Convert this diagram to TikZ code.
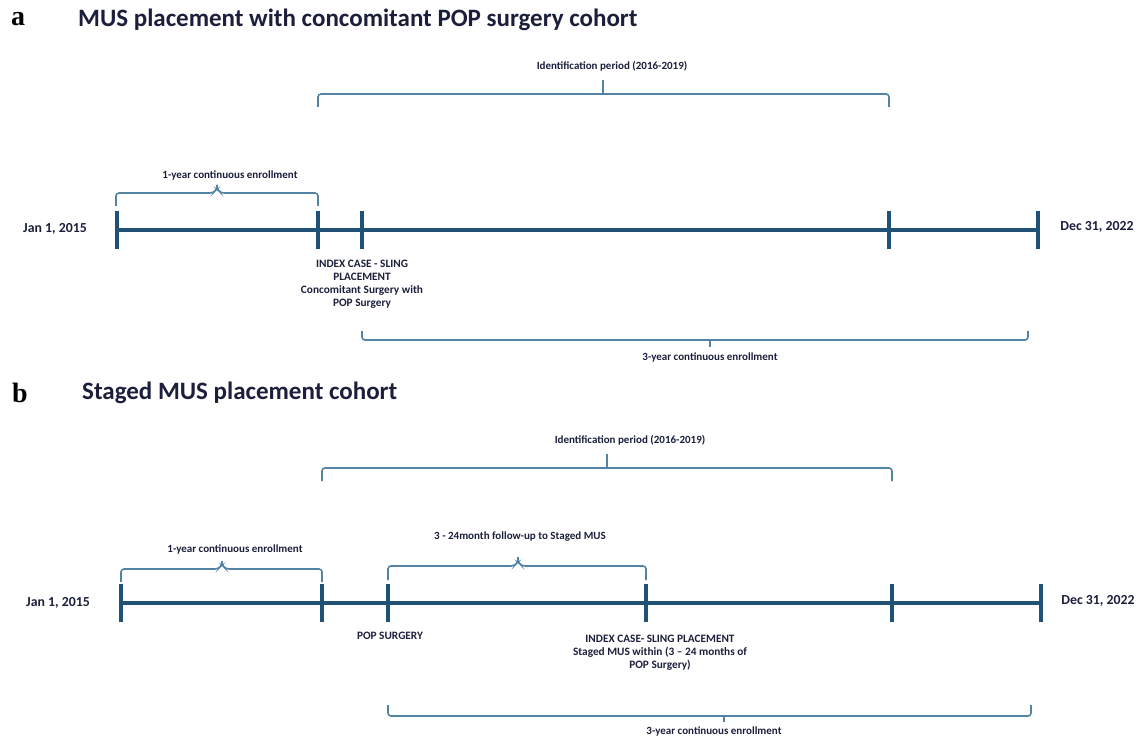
\documentclass[tikz,border=0pt]{standalone}
\usepackage{fontspec}
\setmainfont{Carlito}
\newfontfamily\serifb{Liberation Serif}
\definecolor{tl}{HTML}{1F5276}
\definecolor{br}{HTML}{5283A3}
\definecolor{tx}{HTML}{1B1F3B}
\begin{document}
\begin{tikzpicture}[x=1pt,y=-1pt,
 timeline/.style={line width=4.5pt,tl},
 tickmark/.style={line width=4.5pt,tl},
 bracket/.style={line width=1.6pt,br,rounded corners=3pt},
 lab/.style={font=\bfseries\fontsize{11}{12.5}\selectfont,text=tx,inner sep=0pt,align=center},
 caselab/.style={font=\bfseries\fontsize{11.3}{12.8}\selectfont,text=tx,inner sep=0pt,align=center},
 datelab/.style={font=\bfseries\fontsize{13.8}{16}\selectfont,text=tx,inner sep=0pt},
 titlelab/.style={font=\bfseries\fontsize{25}{28}\selectfont,text=tx,anchor=west,inner sep=0pt},
 letterlab/.style={font=\serifb\bfseries\fontsize{28}{30}\selectfont,anchor=west,inner sep=0pt}]
\useasboundingbox (0,0) rectangle (1138,738);

% ---------- panel a ----------
\node[letterlab] (la) at (11,19) {a};
\node[titlelab] (ta) at (78,20) {MUS placement with concomitant POP surgery cohort};

\coordinate (a0) at (117,230);
\coordinate (a1) at (318,230);
\coordinate (a2) at (362,230);
\coordinate (a3) at (889,230);
\coordinate (a4) at (1038,230);
\draw[timeline] (a0) -- (a4);
\foreach \c in {a0,a1,a2,a3,a4}
  \draw[tickmark] ([yshift=19pt]\c) -- ([yshift=-19pt]\c);

\node[datelab] (ja) at (55,229) {Jan 1, 2015};
\node[datelab] (da) at (1097,227) {Dec 31, 2022};

% identification period
\draw[bracket] (318,107) -- (318,94) -- (889,94) -- (889,107);
\draw[bracket] (603,94) -- (603,80);
\node[lab] (ida) at (612,66) {Identification period (2016-2019)};

% 1-year
\draw[bracket] (116,206) -- (116,193) -- (213,193) -- (217,189) -- (217,185);
\draw[bracket] (217,185) -- (217,189) -- (221,193) -- (318,193) -- (318,206);
\node[lab] (oya) at (230,175) {1-year continuous enrollment};

% index case
\node[caselab,anchor=north] (ica) at (362,260)
 {INDEX CASE - SLING\\PLACEMENT\\Concomitant Surgery with\\POP Surgery};

% 3-year
\draw[bracket] (362,331) -- (362,340) -- (1028,340) -- (1028,331);
\draw[bracket] (710,340) -- (710,347);
\node[lab] (tya) at (710,357) {3-year continuous enrollment};

% ---------- panel b ----------
\node[letterlab] (lb) at (12,393) {b};
\node[titlelab] (tb) at (82,393) {Staged MUS placement cohort};

\coordinate (b0) at (121,603);
\coordinate (b1) at (322,603);
\coordinate (b2) at (388,603);
\coordinate (b3) at (646,603);
\coordinate (b4) at (892,603);
\coordinate (b5) at (1041,603);
\draw[timeline] (b0) -- (b5);
\foreach \c in {b0,b1,b2,b3,b4,b5}
  \draw[tickmark] ([yshift=19pt]\c) -- ([yshift=-19pt]\c);

\node[datelab] (jb) at (58,603) {Jan 1, 2015};
\node[datelab] (db) at (1098,601) {Dec 31, 2022};

% identification period
\draw[bracket] (322,481) -- (322,468) -- (892,468) -- (892,481);
\draw[bracket] (607,468) -- (607,454);
\node[lab] (idb) at (630,440) {Identification period (2016-2019)};

% 1-year
\draw[bracket] (121,582) -- (121,569) -- (218,569) -- (222,565) -- (222,561);
\draw[bracket] (222,561) -- (222,565) -- (226,569) -- (322,569) -- (322,582);
\node[lab] (oyb) at (235,549) {1-year continuous enrollment};

% 3-24 month
\draw[bracket] (388,580) -- (388,566) -- (514,566) -- (518,562) -- (518,557);
\draw[bracket] (518,557) -- (518,562) -- (522,566) -- (646,566) -- (646,580);
\node[lab] (fub) at (520,537) {3 - 24month follow-up to Staged MUS};

% labels under timeline
\node[caselab] (popb) at (390,636) {POP SURGERY};
\node[caselab,anchor=north] (icb) at (660,635)
 {INDEX CASE- SLING PLACEMENT\\Staged MUS within (3 -- 24 months of\\POP Surgery)};

% 3-year
\draw[bracket] (388,705) -- (388,716) -- (1031,716) -- (1031,705);
\draw[bracket] (724,716) -- (724,722);
\node[lab] (tyb) at (714,731) {3-year continuous enrollment};
\end{tikzpicture}
\end{document}
